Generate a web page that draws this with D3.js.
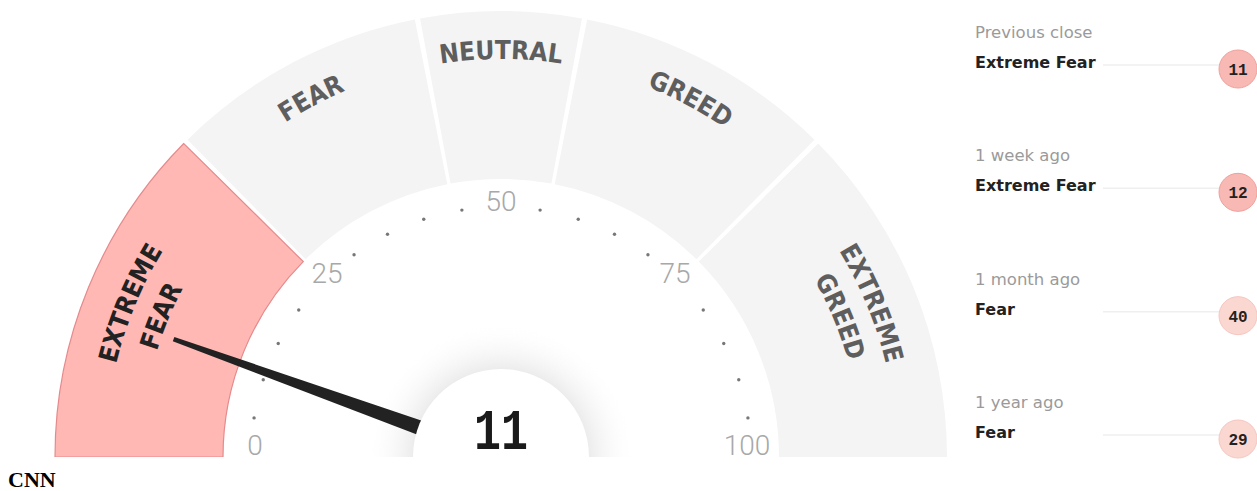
<!DOCTYPE html>
<html>
<head>
<meta charset="utf-8">
<script src="https://cdn.jsdelivr.net/npm/d3@7"></script>
<style>
  body { margin: 0; background: #fff; }
</style>
</head>
<body>
<svg id="chart"></svg>
<script>
// Gauge bands
const bandEdges = [0, 25, 44, 56, 75, 100];
const bandLabels = [["EXTREME", "FEAR"], ["FEAR"], ["NEUTRAL"], ["GREED"], ["EXTREME", "GREED"]];
const currentValue = 11;
const currentBand = 0;

// Scale ticks
const tickLabels = [0, 25, 50, 75, 100];
const dotTicks = [5, 10, 15, 20, 30, 35, 40, 45, 55, 60, 65, 70, 80, 85, 90, 95];

// History panel
const historyPeriods = ["Previous close", "1 week ago", "1 month ago", "1 year ago"];
const historyRatings = ["Extreme Fear", "Extreme Fear", "Fear", "Fear"];
const historyValues = [11, 12, 40, 29];

// Chart dimensions
const Width = 1257;
const Height = 491;
const cx = 501, cy = 457;
const innerR = 278, outerR = 446;
const gap = 0.006;

const svg = d3.select("#chart")
    .attr("width", Width)
    .attr("height", Height);

const angle = d3.scaleLinear()
    .domain([0, 100])
    .range([-Math.PI / 2, Math.PI / 2]);

function polar(v, r) {
    const a = angle(v);
    return [cx + r * Math.sin(a), cy - r * Math.cos(a)];
}

const defs = svg.append("defs");
defs.append("clipPath").attr("id", "top-half")
    .append("rect").attr("x", 0).attr("y", 0).attr("width", Width).attr("height", cy);

const halo = defs.append("radialGradient").attr("id", "halo")
    .attr("cx", cx).attr("cy", cy).attr("r", 135)
    .attr("gradientUnits", "userSpaceOnUse");
halo.append("stop").attr("offset", 0.6).attr("stop-color", "#e6e6e6");
halo.append("stop").attr("offset", 1).attr("stop-color", "#ffffff").attr("stop-opacity", 0);

const gauge = svg.append("g").attr("clip-path", "url(#top-half)");

// Bands
const arc = d3.arc().innerRadius(innerR).outerRadius(outerR);
const bands = d3.range(bandEdges.length - 1).map(i => ({
    i: i,
    v0: bandEdges[i],
    v1: bandEdges[i + 1],
    labels: bandLabels[i]
}));

gauge.selectAll("path.band")
    .data(bands)
    .enter()
    .append("path")
    .attr("class", "band")
    .attr("transform", `translate(${cx},${cy})`)
    .attr("d", d => arc({
        startAngle: angle(d.v0) + (d.v0 > 0 ? gap : 0),
        endAngle: angle(d.v1) - (d.v1 < 100 ? gap : 0)
    }))
    .style("fill", d => d.i === currentBand ? "#ffb8b4" : "#f4f4f4")
    .style("stroke", d => d.i === currentBand ? "#e58a8c" : "none")
    .style("stroke-width", 1.2);

// Band labels on arcs
function arcPath(v0, v1, r) {
    const p0 = polar(v0, r), p1 = polar(v1, r);
    return `M${p0[0]},${p0[1]} A${r},${r} 0 0 1 ${p1[0]},${p1[1]}`;
}

bands.forEach(d => {
    const radii = d.labels.length === 1 ? [398] : [396, 360];
    d.labels.forEach((t, j) => {
        const id = `lab-${d.i}-${j}`;
        defs.append("path").attr("id", id).attr("d", arcPath(d.v0, d.v1, radii[j]));
        gauge.append("text")
            .style("font-family", "'DejaVu Sans Condensed', 'DejaVu Sans', sans-serif")
            .style("font-stretch", "condensed")
            .style("font-weight", "bold")
            .style("font-size", "26px")
            .style("fill", d.i === currentBand ? "#222" : "#5e5e5e")
            .append("textPath")
            .attr("href", "#" + id)
            .attr("startOffset", "50%")
            .attr("text-anchor", "middle")
            .text(t);
    });
});

// Dots and tick labels
gauge.selectAll("circle.dot")
    .data(dotTicks)
    .enter()
    .append("circle")
    .attr("class", "dot")
    .attr("cx", d => polar(d, 250)[0])
    .attr("cy", d => polar(d, 250)[1])
    .attr("r", 1.7)
    .style("fill", "#777");

svg.selectAll("text.tick")
    .data(tickLabels)
    .enter()
    .append("text")
    .attr("class", "tick")
    .attr("x", d => polar(d, 246)[0])
    .attr("y", d => Math.min(polar(d, 246)[1], cy - 2))
    .attr("text-anchor", "middle")
    .style("font-family", "Roboto, sans-serif")
    .style("font-weight", 300)
    .style("font-size", "28px")
    .style("fill", "#a8a8a8")
    .text(d => d);

// Halo, needle, hub
gauge.append("circle")
    .attr("cx", cx).attr("cy", cy).attr("r", 135)
    .style("fill", "url(#halo)");

const a = angle(currentValue);
const ux = Math.sin(a), uy = -Math.cos(a);
const nx = -uy, ny = ux;
const tipR = 348;
const needle = [
    [cx + nx * 9, cy + ny * 9],
    [cx + ux * tipR + nx * 2.3, cy + uy * tipR + ny * 2.3],
    [cx + ux * tipR - nx * 2.3, cy + uy * tipR - ny * 2.3],
    [cx - nx * 9, cy - ny * 9]
];
gauge.append("path")
    .attr("d", d3.line()(needle) + "Z")
    .style("fill", "#222");

gauge.append("circle")
    .attr("cx", cx).attr("cy", cy).attr("r", 88)
    .style("fill", "#fff");

svg.append("text")
    .attr("x", cx)
    .attr("y", 449)
    .attr("text-anchor", "middle")
    .attr("textLength", 54)
    .attr("lengthAdjust", "spacingAndGlyphs")
    .style("font-family", "'Liberation Mono', 'DejaVu Sans Mono', monospace")
    .style("font-weight", "bold")
    .style("font-size", "58px")
    .style("fill", "#1a1a1a")
    .text(currentValue);

// History panel
const rowY = d3.scaleLinear().domain([0, historyPeriods.length - 1]).range([38, 408]);
const rows = svg.selectAll("g.row")
    .data(historyPeriods.map((p, i) => ({ p: p, r: historyRatings[i], v: historyValues[i] })))
    .enter()
    .append("g")
    .attr("class", "row")
    .attr("transform", (d, i) => `translate(975, ${rowY(i)})`);

rows.append("line")
    .attr("x1", 128).attr("x2", 244)
    .attr("y1", 27).attr("y2", 27)
    .style("stroke", "#efefef")
    .style("stroke-width", 1.5);

rows.append("text")
    .style("font-family", "'DejaVu Sans', sans-serif")
    .style("font-size", "16.5px")
    .style("fill", "#9a9a9a")
    .text(d => d.p);

rows.append("text")
    .attr("y", 30)
    .style("font-family", "'DejaVu Sans', sans-serif")
    .style("font-weight", "bold")
    .style("font-size", "16px")
    .style("fill", "#222")
    .text(d => d.r);

rows.append("circle")
    .attr("cx", 263).attr("cy", 31).attr("r", 19)
    .style("fill", d => d.v <= 25 ? "#f8b9b5" : "#fbd7d2")
    .style("stroke", d => d.v <= 25 ? "#f0a09b" : "#f6c6c0")
    .style("stroke-width", 1);

rows.append("text")
    .attr("x", 263).attr("y", 37)
    .attr("text-anchor", "middle")
    .style("font-family", "'Liberation Mono', 'DejaVu Sans Mono', monospace")
    .style("font-weight", "bold")
    .style("font-size", "16px")
    .style("fill", "#222")
    .text(d => d.v);

// Source caption
svg.append("text")
    .attr("x", 8).attr("y", 487)
    .style("font-family", "'Liberation Serif', serif")
    .style("font-weight", "bold")
    .style("font-size", "22px")
    .style("fill", "#000")
    .text("CNN");
</script>
</body>
</html>
